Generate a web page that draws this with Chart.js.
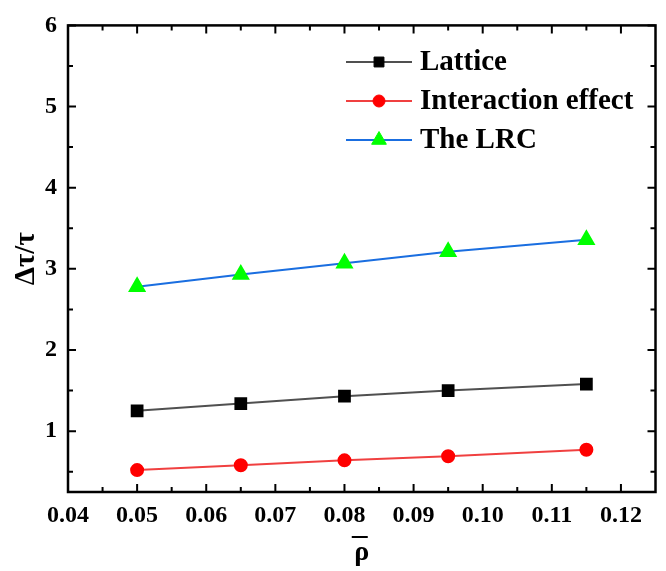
<!DOCTYPE html>
<html>
<head>
<meta charset="utf-8">
<script src="https://cdn.jsdelivr.net/npm/chart.js@4.4.1/dist/chart.umd.min.js"></script>
<style>
  body { margin: 0; background: #fff; }
  #wrap { width: 666px; height: 571px; }
</style>
</head>
<body>
<div id="wrap"><canvas id="myChart"></canvas></div>
<script>
// data
const rho = [0.05, 0.065, 0.08, 0.095, 0.115];
const lattice = [1.25, 1.34, 1.43, 1.50, 1.58];
const interaction = [0.52, 0.58, 0.64, 0.69, 0.77];
const lrc = [2.78, 2.93, 3.07, 3.21, 3.36];
const seriesNames = ['Lattice', 'Interaction effect', 'The LRC'];

const xTicks = [0.04, 0.05, 0.06, 0.07, 0.08, 0.09, 0.10, 0.11, 0.12];
const xMinor = [0.045, 0.055, 0.065, 0.075, 0.085, 0.095, 0.105, 0.115];
const yTicks = [1, 2, 3, 4, 5, 6];
const yMinor = [0.5, 1.5, 2.5, 3.5, 4.5, 5.5];

const FONT = '"Liberation Serif", "Times New Roman", serif';

function pts(ys) {
  return rho.map((x, i) => ({ x: x, y: ys[i] }));
}

// frame + inward ticks on all four sides, bar over the rho
const framePlugin = {
  id: 'frame',
  afterDraw(chart) {
    const ctx = chart.ctx;
    const a = chart.chartArea;
    const xs = chart.scales.x, ys = chart.scales.y;
    ctx.save();
    ctx.strokeStyle = '#000';
    ctx.lineWidth = 2;
    xTicks.concat(xMinor).forEach(v => {
      const px = xs.getPixelForValue(v);
      const len = xTicks.includes(v) ? 8 : 5;
      ctx.beginPath();
      ctx.moveTo(px, a.bottom); ctx.lineTo(px, a.bottom - len);
      ctx.moveTo(px, a.top); ctx.lineTo(px, a.top + len);
      ctx.stroke();
    });
    yTicks.concat(yMinor).forEach(v => {
      const py = ys.getPixelForValue(v);
      const len = yTicks.includes(v) ? 8 : 5;
      ctx.beginPath();
      ctx.moveTo(a.left, py); ctx.lineTo(a.left + len, py);
      ctx.moveTo(a.right, py); ctx.lineTo(a.right - len, py);
      ctx.stroke();
    });
    ctx.lineWidth = 2.5;
    ctx.strokeRect(a.left, a.top, a.right - a.left, a.bottom - a.top);

    // overline of the rho-bar title
    const cx = (xs.left + xs.right) / 2 - 2;
    ctx.lineWidth = 2;
    ctx.beginPath();
    ctx.moveTo(cx - 8, xs.bottom - 34);
    ctx.lineTo(cx + 8, xs.bottom - 34);
    ctx.stroke();
    ctx.restore();
  }
};

// legend inside the plot, top right
const legendPlugin = {
  id: 'innerLegend',
  afterDraw(chart) {
    const ctx = chart.ctx;
    const rows = [62, 101, 140];
    const sizes = [7, 6, 8.5];
    ctx.save();
    chart.data.datasets.forEach((ds, i) => {
      const y = rows[i];
      ctx.strokeStyle = ds.borderColor;
      ctx.lineWidth = ds.borderWidth;
      ctx.beginPath();
      ctx.moveTo(346, y); ctx.lineTo(412, y);
      ctx.stroke();
      ctx.fillStyle = ds.pointBackgroundColor;
      ctx.strokeStyle = ds.pointBorderColor;
      ctx.lineWidth = 1;
      Chart.helpers.drawPoint(ctx, {
        pointStyle: ds.pointStyle, radius: sizes[i], rotation: 0, borderWidth: 1
      }, 379, y);
      ctx.fillStyle = '#000';
      ctx.font = 'bold 29px ' + FONT;
      ctx.textAlign = 'left';
      ctx.textBaseline = 'middle';
      ctx.fillText(ds.label, 420, y + 1);
    });
    ctx.restore();
  }
};

const ctx = document.getElementById('myChart').getContext('2d');
new Chart(ctx, {
  type: 'scatter',
  data: {
    datasets: [
      {
        label: seriesNames[0],
        data: pts(lattice),
        showLine: true,
        borderColor: '#505050',
        borderWidth: 2,
        pointStyle: 'rect',
        pointRadius: 7.6,
        pointBackgroundColor: '#000000',
        pointBorderColor: '#000000'
      },
      {
        label: seriesNames[1],
        data: pts(interaction),
        showLine: true,
        borderColor: '#f04040',
        borderWidth: 2,
        pointStyle: 'circle',
        pointRadius: 6,
        pointBackgroundColor: '#ff0000',
        pointBorderColor: '#ff0000'
      },
      {
        label: seriesNames[2],
        data: pts(lrc),
        showLine: true,
        borderColor: '#1a6ee0',
        borderWidth: 2,
        pointStyle: 'triangle',
        pointRadius: 8.5,
        pointBackgroundColor: '#00ff00',
        pointBorderColor: '#00ff00'
      }
    ]
  },
  options: {
    responsive: true,
    maintainAspectRatio: false,
    animation: false,
    layout: { padding: { top: 17, right: 8, left: 0, bottom: 0 } },
    plugins: {
      legend: { display: false },
      tooltip: { enabled: false }
    },
    scales: {
      x: {
        type: 'linear',
        min: 0.04,
        max: 0.125,
        afterBuildTicks: s => { s.ticks = xTicks.map(v => ({ value: v })); },
        afterFit: s => { s.height = 79; },
        grid: { display: false, drawTicks: false },
        border: { display: false },
        ticks: {
          color: '#000',
          padding: 9,
          font: { family: FONT, size: 24, weight: 'bold' },
          callback: v => v.toFixed(2)
        },
        title: {
          display: true,
          text: 'ρ',
          color: '#000',
          padding: { top: 0, bottom: 1 },
          font: { family: FONT, size: 28, weight: 'bold' }
        }
      },
      y: {
        type: 'linear',
        min: 0.25,
        max: 6,
        afterBuildTicks: s => { s.ticks = yTicks.map(v => ({ value: v })); },
        afterFit: s => { s.width = 68; },
        grid: { display: false, drawTicks: false },
        border: { display: false },
        ticks: {
          color: '#000',
          padding: 11,
          font: { family: FONT, size: 24, weight: 'bold' },
          callback: v => String(v)
        },
        title: {
          display: true,
          text: 'Δτ/τ',
          color: '#000',
          padding: { top: 9, bottom: 0 },
          font: { family: FONT, size: 29, weight: 'bold' }
        }
      }
    }
  },
  plugins: [framePlugin, legendPlugin]
});
</script>
</body>
</html>
